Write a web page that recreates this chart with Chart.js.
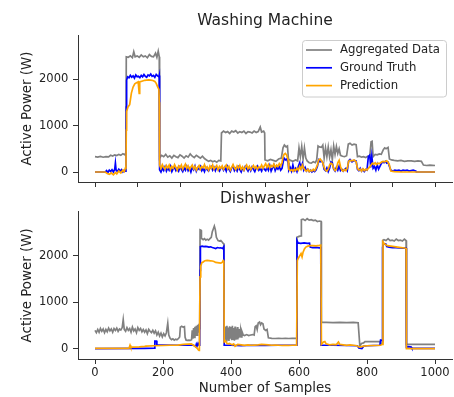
<!DOCTYPE html>
<html>
<head>
<meta charset="utf-8">
<script src="https://cdn.jsdelivr.net/npm/chart.js@4/dist/chart.umd.min.js"></script>
<style>
html,body{margin:0;padding:0;background:#fff;}
canvas{display:block;}
</style>
</head>
<body>
<canvas id="top" width="454" height="188"></canvas>
<canvas id="bottom" width="454" height="209"></canvas>
<script>
// ---------- DATA ----------
const seriesLabels = ["Aggregated Data", "Ground Truth", "Prediction"];
const titles = ["Washing Machine", "Dishwasher"];
const yTicks = [0, 1000, 2000];
const xTicksTop = [0, 125, 250, 375, 500, 625, 750, 875, 1000];
const xTicksBottom = [0, 200, 400, 600, 800, 1000];

// Washing machine: [sample, W]
const wmAgg = [[0,330],[8,320],[16,335],[24,318],[32,330],[40,325],[46,360],[52,345],[58,370],[64,355],[70,380],[76,360],[82,395],[88,370],[91,420],
[92,2480],[98,2470],[104,2500],[110,2460],[114,2590],[118,2480],[124,2500],[130,2470],[136,2520],[142,2480],[148,2500],[154,2460],[160,2530],[166,2490],[172,2480],[178,2560],[182,2470],[186,2600],[189,2480],
[190,300],[196,360],[202,330],[208,380],[214,320],[220,350],[226,300],[232,360],[238,330],[244,310],[250,370],[256,340],[262,300],[268,350],[274,320],[280,390],[286,340],[292,310],[298,360],[304,330],[310,300],[316,340],[322,290],[328,260],[334,230],[340,250],[346,220],[352,240],[358,210],[364,250],[370,240],
[372,840],[378,880],[384,850],[390,870],[396,830],[402,880],[408,860],[414,890],[420,840],[426,870],[432,850],[438,880],[444,830],[450,870],[456,860],[462,840],[468,880],[474,850],[480,870],[486,970],[490,860],[496,880],[499,840],
[500,260],[508,240],[516,270],[524,250],[532,230],[540,280],[548,300],[553,520],[557,580],[562,540],[566,560],[569,280],[575,250],[582,230],[590,260],[596,240],[600,520],[604,330],[608,550],[612,280],[616,520],[620,300],[624,240],[630,200],[636,190],[642,220],[648,200],[652,260],[656,560],[660,540],[666,530],[670,580],[674,300],[678,520],[682,330],[686,540],[690,320],[694,480],[698,260],[702,560],[706,380],[710,550],[714,400],[718,500],[722,360],[728,340],[734,330],[740,350],[745,600],[750,620],[756,580],[762,600],[768,590],[772,330],[778,340],[784,320],[790,330],[796,310],[802,340],[808,330],[812,650],[815,660],[818,330],[824,380],[830,370],[836,390],[842,380],[848,480],[852,520],[856,500],[862,530],[866,280],[872,260],[880,250],[890,240],[900,250],[910,230],[920,240],[930,240],[940,230],[950,240],[960,230],[966,150],[975,140],[985,150],[1000,140]];

const wmGT = [[0,0],[30,0],[34,30],[38,-10],[42,40],[46,10],[50,50],[54,0],[58,60],[60,190],[62,40],[66,10],[70,60],[74,20],[78,50],[82,0],[86,40],[90,20],[91,30],
[92,1400],[93,1980],[96,2050],[100,2030],[104,2080],[108,2040],[112,2070],[116,2020],[120,2090],[124,2050],[128,2060],[132,2030],[136,2080],[140,2050],[144,2100],[148,2060],[152,2040],[156,2090],[160,2070],[164,2110],[168,2060],[172,2080],[176,2040],[180,2100],[184,2070],[188,2050],[189,2080],
[190,50],[194,0],[198,80],[202,30],[206,110],[210,20],[214,90],[218,40],[222,120],[226,10],[230,70],[234,100],[238,30],[242,80],[246,20],[250,110],[254,60],[258,10],[262,90],[266,40],[270,120],[274,30],[278,80],[282,0],[286,100],[290,50],[294,130],[298,20],[302,90],[306,60],[310,120],[314,30],[318,80],[322,10],[326,100],[330,50],[334,20],[338,90],[342,120],[346,40],[350,100],[354,30],[358,110],[362,60],[366,20],[370,90],[374,110],[378,40],[382,100],[386,20],[390,120],[394,60],[398,10],[402,90],[406,130],[410,30],[414,80],[418,20],[422,110],[426,50],[430,0],[434,90],[438,40],[442,120],[446,70],[450,20],[454,100],[458,30],[462,110],[466,60],[470,10],[474,90],[478,130],[482,40],[486,80],[490,20],[494,100],[498,60],
[502,30],[506,110],[510,40],[514,140],[518,20],[522,90],[526,150],[530,30],[534,100],[538,60],[542,120],[546,40],[550,80],[553,200],[556,300],[560,260],[564,280],[568,200],[570,40],[574,100],[578,20],[582,150],[586,30],[590,80],[594,10],[598,120],[602,200],[606,90],[610,180],[614,40],[618,100],[622,20],[626,60],[630,10],[634,40],[638,0],[642,30],[646,10],[650,40],[654,120],[658,260],[662,220],[666,240],[670,200],[674,60],[678,30],[682,90],[686,10],[690,80],[694,220],[698,200],[702,60],[706,20],[710,100],[714,40],[718,130],[722,30],[726,60],[730,20],[734,50],[738,80],[742,30],[746,240],[750,270],[756,220],[762,250],[768,240],[772,60],[776,30],[780,80],[784,20],[788,60],[792,10],[796,50],[800,40],[804,330],[808,360],[811,100],[814,340],[818,80],[822,120],[826,40],[830,160],[834,60],[838,120],[842,180],[846,220],[850,200],[854,230],[858,190],[862,210],[866,120],[870,40],[876,20],[882,40],[888,30],[894,40],[900,20],[906,40],[912,30],[918,40],[924,20],[930,30],[936,40],[944,20],[945,0],[1000,0]];

const wmPred = [[0,0],[30,0],[36,-30],[42,-50],[48,-20],[54,-60],[60,-10],[64,-40],[70,20],[76,-20],[82,40],[86,10],[90,100],[91,60],
[92,900],[93,1300],[97,1400],[102,1450],[107,1700],[112,1830],[117,1900],[122,1920],[127,1940],[129,1940],[130,1690],[131,1700],[132,1940],[140,1960],[146,1975],[152,1980],[158,1985],[164,1980],[170,1970],[176,1950],[180,1910],[184,1840],[188,1780],[189,1500],
[190,150],[194,80],[198,160],[202,100],[206,60],[210,140],[214,90],[218,150],[222,50],[226,120],[230,80],[234,160],[238,100],[242,40],[246,130],[250,90],[254,150],[258,60],[262,120],[266,170],[270,80],[274,130],[278,50],[282,110],[286,150],[290,70],[294,120],[298,40],[302,100],[306,140],[310,60],[314,120],[318,90],[322,160],[326,70],[330,110],[334,40],[338,130],[342,80],[346,150],[350,60],[354,100],[358,140],[362,50],[366,120],[370,80],[374,130],[378,60],[382,110],[386,150],[390,70],[394,120],[398,40],[402,100],[406,160],[410,90],[414,50],[418,130],[422,80],[426,140],[430,60],[434,110],[438,40],[442,100],[446,150],[450,70],[454,120],[458,50],[462,100],[466,140],[470,80],[474,120],[478,60],[482,110],[486,90],[490,150],[494,80],[498,130],
[502,180],[506,100],[510,160],[514,90],[518,140],[522,110],[526,170],[530,100],[534,150],[538,120],[542,180],[546,130],[550,200],[553,320],[556,380],[560,400],[564,360],[568,250],[570,60],[574,30],[578,50],[582,20],[586,60],[590,30],[594,80],[598,40],[602,120],[606,60],[610,150],[614,80],[618,40],[622,20],[626,60],[630,10],[634,40],[638,20],[642,60],[646,30],[650,80],[654,150],[658,260],[662,280],[666,240],[670,200],[674,100],[678,40],[682,20],[686,60],[690,150],[694,190],[698,170],[702,80],[706,30],[710,60],[714,200],[718,250],[722,120],[726,40],[730,20],[734,60],[738,30],[742,80],[746,230],[750,250],[756,240],[762,260],[768,220],[772,80],[776,40],[780,60],[784,20],[788,70],[792,30],[796,60],[800,40],[804,80],[808,110],[812,150],[816,190],[820,170],[824,200],[828,160],[832,190],[836,180],[840,200],[844,220],[848,230],[852,220],[858,240],[862,210],[866,150],[870,20],[880,10],[900,0],[1000,0]];

// Dishwasher: [sample, W]
const dwAgg = [[0,400],[4,350],[8,420],[12,360],[16,440],[20,380],[24,430],[28,350],[32,420],[36,370],[40,450],[44,390],[48,430],[52,360],[56,440],[60,400],[64,450],[68,380],[72,430],[76,410],[80,460],[83,630],[86,420],[90,380],[94,460],[98,400],[102,440],[106,360],[110,470],[114,390],[118,430],[122,350],[126,460],[130,400],[134,440],[138,370],[142,420],[146,360],[150,410],[154,330],[158,420],[162,380],[166,350],[170,400],[174,340],[178,390],[182,300],[186,360],[190,280],[194,340],[198,260],[202,330],[206,280],[210,350],[214,550],[217,300],[221,230],[225,200],[229,220],[233,190],[237,210],[241,200],[245,220],[249,260],[251,470],[255,490],[259,470],[263,480],[265,250],[268,190],[272,185],[276,190],[280,185],[284,200],[286,400],[288,220],[290,450],[292,250],[294,480],[296,280],[298,500],[300,300],[302,520],[304,350],[306,540],[308,420],
[309,2560],[312,2550],[313,2380],[318,2350],[322,2370],[326,2340],[330,2360],[334,2340],[338,2370],[342,2400],[345,2520],[348,2580],[351,2640],[354,2560],[357,2400],[362,2330],[366,2320],[370,2330],[374,2300],[377,2270],[379,2260],
[380,450],[382,200],[384,480],[386,180],[388,500],[390,200],[392,460],[394,170],[396,490],[398,220],[400,470],[402,190],[404,500],[406,210],[408,450],[410,180],[412,480],[414,200],[416,440],[418,220],[420,470],[422,230],[424,430],[426,250],[428,400],[430,260],[432,380],[436,300],[440,290],[446,310],[452,290],[458,300],[464,310],[468,300],[471,480],[474,500],[477,420],[480,560],[484,580],[487,520],[490,560],[494,540],[497,430],[502,400],[506,420],[510,240],[520,230],[530,225],[540,230],[550,225],[560,230],[570,225],[580,230],[593,230],
[594,2400],[600,2420],[606,2430],[607,2780],[612,2790],[618,2760],[624,2800],[630,2770],[636,2780],[642,2760],[648,2770],[654,2740],[660,2750],[665,2740],
[666,570],[680,570],[700,565],[720,570],[740,565],[760,570],[774,565],[779,60],[784,120],[790,130],[794,160],[810,160],[830,160],[838,160],[840,120],[845,130],
[846,2330],[850,2350],[856,2330],[862,2370],[868,2330],[874,2340],[880,2320],[886,2360],[892,2330],[898,2340],[904,2320],[910,2360],[915,2330],
[916,100],[940,100],[970,100],[1000,100]];

const dwGT = [[0,10],[146,15],[175,20],[176,170],[181,170],[182,90],[200,85],[240,80],[280,80],[290,80],[296,50],[298,100],[300,60],[303,120],[306,80],[308,120],
[309,1690],[310,2200],[315,2210],[320,2200],[325,2205],[330,2200],[335,2190],[340,2195],[345,2180],[350,2170],[355,2160],[360,2180],[365,2170],[370,2175],[375,2160],[379,2200],
[380,80],[400,80],[430,70],[460,80],[500,75],[540,80],[570,80],[593,85],
[594,2330],[597,2280],[605,2270],[615,2280],[625,2270],[631,2275],[633,2190],[640,2180],[650,2185],[660,2175],[664,2180],
[665,80],[700,80],[740,75],[772,70],[776,20],[785,10],[790,60],[800,70],[820,75],[838,80],[840,190],[845,180],
[846,2190],[849,2260],[855,2260],[858,2200],[865,2190],[875,2180],[885,2175],[895,2170],[905,2165],[915,2170],
[916,40],[922,50],[930,40],[932,15],[1000,15]];

const dwPred = [[0,15],[100,15],[103,80],[105,40],[110,40],[130,45],[146,55],[150,60],[175,70],[200,75],[220,80],[244,85],[260,100],[283,110],[290,80],[295,50],[300,20],[304,-20],[306,-30],[307,-20],
[309,1550],[311,1780],[314,1850],[318,1870],[322,1890],[326,1900],[330,1905],[335,1900],[340,1895],[345,1890],[350,1880],[355,1860],[360,1855],[365,1850],[370,1845],[374,1860],[377,1900],[379,1880],
[380,150],[384,170],[388,120],[392,110],[396,120],[400,100],[404,90],[408,110],[412,60],[416,80],[420,100],[430,90],[440,80],[450,90],[460,80],[470,85],[480,90],[490,100],[500,95],[510,90],[520,80],[530,85],[540,80],[550,75],[560,80],[570,75],[580,80],[593,80],
[595,1900],[598,1950],[602,2000],[606,2050],[609,1980],[612,2080],[616,2150],[620,2190],[626,2210],[632,2220],[640,2220],[650,2215],[660,2225],[664,2230],
[666,100],[672,150],[676,160],[680,110],[690,90],[700,100],[710,95],[716,150],[720,100],[730,90],[740,80],[750,90],[760,80],[770,70],[778,40],[784,50],[790,60],[800,70],[820,75],[840,80],[846,100],
[847,2300],[850,2270],[855,2240],[860,2220],[870,2210],[880,2200],[890,2190],[900,2180],[910,2170],[915,2160],
[916,10],[1000,10]];

// ---------- STYLE ----------
const FONT = "'DejaVu Sans', sans-serif";
const TXT = '#222';
const AXC = '#333';
const colors = ['#808080', '#0000ff', '#ffa500'];

function toXY(arr){ return arr.map(p => ({x: p[0], y: p[1]})); }

function makeDatasets(agg, gt, pred){
  const src = [agg, gt, pred];
  return src.map((d, i) => ({
    label: seriesLabels[i],
    data: toXY(d),
    borderColor: colors[i],
    backgroundColor: colors[i],
    borderWidth: 1.7,
    pointRadius: 0,
    tension: 0,
    fill: false,
    order: 3 - i
  }));
}

const legendPlugin = {
  id: 'mplLegend',
  afterDraw(chart, args, opts){
    if (!opts || !opts.show) return;
    const ctx = chart.ctx;
    ctx.save();
    const x = 302.5, y = 40.5, w = 144, h = 56.5, r = 3;
    ctx.beginPath();
    ctx.roundRect(x, y, w, h, r);
    ctx.fillStyle = 'rgba(255,255,255,0.85)';
    ctx.fill();
    ctx.strokeStyle = '#cccccc';
    ctx.lineWidth = 1;
    ctx.stroke();
    const rows = [50, 67.8, 85.6];
    ctx.font = "11.7px " + FONT;
    ctx.textBaseline = 'middle';
    ctx.textAlign = 'left';
    for (let i = 0; i < 3; i++) {
      ctx.beginPath();
      ctx.moveTo(306, rows[i]);
      ctx.lineTo(332, rows[i]);
      ctx.strokeStyle = colors[i];
      ctx.lineWidth = 1.7;
      ctx.stroke();
      ctx.fillStyle = TXT;
      ctx.fillText(chart.data.datasets[i].label, 340, rows[i]);
    }
    ctx.restore();
  }
};

function makeChart(id, datasets, opt){
  return new Chart(document.getElementById(id), {
    type: 'line',
    data: { datasets },
    plugins: [legendPlugin],
    options: {
      responsive: false,
      animation: false,
      devicePixelRatio: 1,
      layout: { padding: { left: 0, right: 2, top: 0, bottom: 0 } },
      plugins: {
        legend: { display: false },
        tooltip: { enabled: false },
        mplLegend: { show: opt.legend },
        title: {
          display: true,
          fullSize: false,
          text: opt.title,
          color: TXT,
          font: { family: FONT, size: 15.5, weight: 'normal' },
          padding: opt.titlePad
        }
      },
      scales: {
        x: {
          type: 'linear',
          min: -50, max: 1050,
          afterBuildTicks: s => { s.ticks = opt.xTicks.map(v => ({value: v})); },
          afterFit: s => { s.height = opt.xHeight; s.paddingLeft = 0; s.paddingRight = 0; },
          ticks: {
            color: TXT,
            font: { family: FONT, size: 11.5 },
            padding: 1.8,
            maxRotation: 0,
            autoSkip: false,
            callback: v => opt.xLabels ? String(v) : ''
          },
          grid: { drawOnChartArea: false, drawTicks: true, tickLength: 5, color: AXC, lineWidth: 1 },
          border: { display: true, color: AXC, width: 1 },
          title: {
            display: opt.xLabels,
            text: 'Number of Samples',
            color: TXT,
            font: { family: FONT, size: 13.4 },
            padding: { top: 0, bottom: 0 }
          }
        },
        y: {
          type: 'linear',
          min: -215, max: 2950,
          afterBuildTicks: s => { s.ticks = yTicks.map(v => ({value: v})); },
          afterFit: s => { s.width = 78; s.paddingTop = 0; s.paddingBottom = 0; },
          ticks: {
            color: TXT,
            font: { family: FONT, size: 11.5 },
            padding: 4.7,
            callback: v => String(v)
          },
          grid: { drawOnChartArea: false, drawTicks: true, tickLength: 5, color: AXC, lineWidth: 1 },
          border: { display: true, color: AXC, width: 1 },
          title: {
            display: true,
            text: 'Active Power (W)',
            color: TXT,
            font: { family: FONT, size: 13.4 },
            padding: { top: 19, bottom: 0 }
          }
        }
      }
    }
  });
}

makeChart('top', makeDatasets(wmAgg, wmGT, wmPred), {
  title: titles[0], legend: true, xTicks: xTicksTop, xLabels: false, xHeight: 6,
  titlePad: { top: 11.2, bottom: 5.2 }
});
makeChart('bottom', makeDatasets(dwAgg, dwGT, dwPred), {
  title: titles[1], legend: false, xTicks: xTicksBottom, xLabels: true, xHeight: 38,
  titlePad: { top: 1.9, bottom: 3.2 }
});
</script>
</body>
</html>
